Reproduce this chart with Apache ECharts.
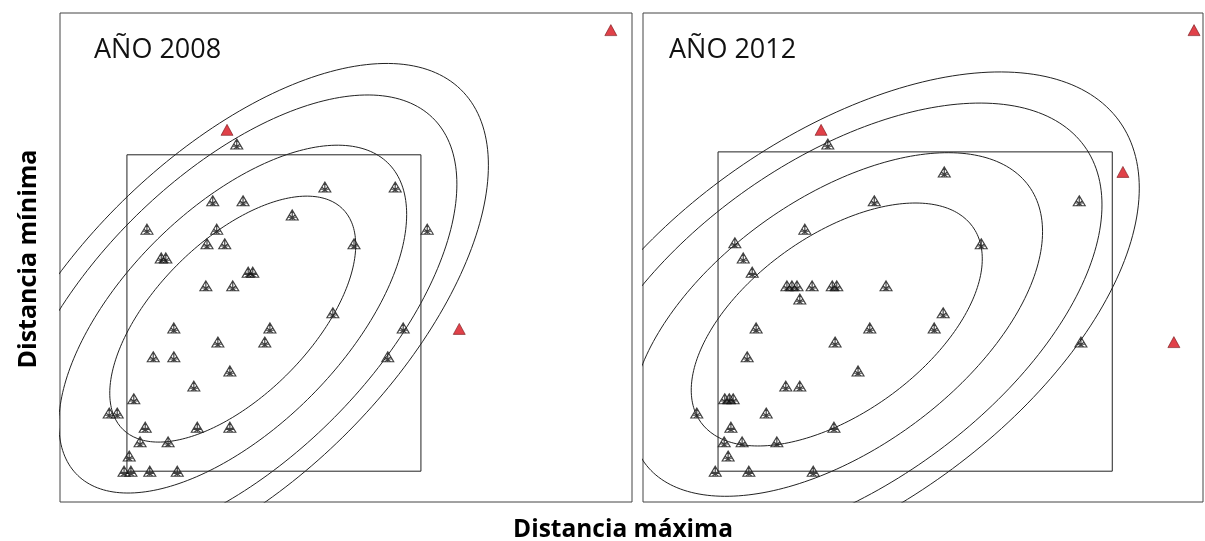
<!DOCTYPE html>
<html><head><meta charset="utf-8">
<script src="https://cdn.jsdelivr.net/npm/echarts@6/dist/echarts.min.js"></script>
<style>html,body{margin:0;padding:0;background:#fff}#c{width:1205px;height:541px}</style>
</head><body><div id="c"></div>
<script>
// Panel titles
const panelTitles = ['AÑO 2008', 'AÑO 2012'];
const xAxisTitle = 'Distancia máxima';
const yAxisTitle = 'Distancia mínima';

// 2008 sites [dist. máxima, dist. mínima] (0-100 scale)
const sites2008 = [
  [30.9,73.2],[26.7,61.6],[32.0,61.6],[40.6,58.7],[46.3,64.4],[58.6,64.4],
  [15.2,55.8],[27.4,55.8],[64.2,55.8],[25.7,52.8],[28.8,52.8],[51.4,52.8],
  [17.7,49.9],[18.5,49.9],[32.9,47.0],[33.7,47.0],[25.5,44.2],[30.2,44.2],
  [47.7,38.7],[19.9,35.6],[36.7,35.6],[60.0,35.6],[27.6,32.7],[35.8,32.7],
  [16.3,29.7],[19.9,29.7],[57.3,29.7],[29.7,26.8],[23.4,23.7],[12.9,21.1],
  [8.6,18.2],[10.0,18.2],[14.9,15.3],[24.0,15.3],[29.7,15.3],[14.0,12.3],
  [18.9,12.3],[12.1,9.4],[11.2,6.3],[12.4,6.3],[15.7,6.3],[20.5,6.3]
];
const outliers2008 = [[29.2,76.1],[69.8,35.4],[96.3,96.5]];

// 2012 sites
const sites2012 = [
  [33.0,73.2],[53.8,67.5],[41.3,61.6],[77.9,61.6],[28.9,55.8],[16.4,53.0],
  [60.4,52.8],[17.9,49.9],[19.5,47.0],[25.7,44.2],[26.6,44.2],[27.5,44.2],
  [30.2,44.2],[33.8,44.2],[34.6,44.2],[43.4,44.2],[28.0,41.5],[53.6,38.7],
  [20.2,35.6],[40.5,35.6],[52.0,35.6],[34.3,32.7],[78.2,32.7],[18.6,29.7],
  [38.4,26.8],[25.5,23.7],[28.0,23.7],[14.6,21.1],[15.4,21.1],[16.1,21.1],
  [9.6,18.2],[22.0,18.2],[15.7,15.3],[34.1,15.3],[14.5,12.3],[17.7,12.3],
  [23.9,12.3],[15.2,9.4],[12.9,6.3],[18.9,6.3],[30.4,6.3]
];
const outliers2012 = [[31.8,76.1],[85.7,67.5],[94.8,32.7],[98.4,96.5]];

// Box limits [xmin, xmax, ymin, ymax]
const box2008 = [11.7, 63.1, 6.3, 71.0];
const box2012 = [13.4, 83.8, 6.3, 71.6];

// Bivariate model: center, std devs, correlation
const model2008 = {cx: 30.2, cy: 37.4, sx: 18.26, sy: 21.36, r: 0.602};
const model2012 = {cx: 34.6, cy: 36.3, sx: 22.07, sy: 21.10, r: 0.540};
// Contour probability levels
const levels = [0.5, 0.75, 0.9, 0.95];

function boxPath(b) {
  return [[b[0],b[2]],[b[0],b[3]],[b[1],b[3]],[b[1],b[2]],[b[0],b[2]]];
}
function contour(m, p) {
  const k = Math.sqrt(-2 * Math.log(1 - p));
  const pts = [];
  const n = 240;
  const q = Math.sqrt(1 - m.r * m.r);
  for (let i = 0; i <= n; i++) {
    const t = 2 * Math.PI * i / n;
    pts.push([m.cx + k * m.sx * Math.cos(t),
              m.cy + k * m.sy * (m.r * Math.cos(t) + q * Math.sin(t))]);
  }
  return pts;
}

const triPath = 'path://M5,0 L10,9 L0,9 Z M2.5,4.5 L7.5,9 M7.5,4.5 L2.5,9 M5,0 L5,9 M1.5,6.5 L8.5,6.5';
const lineCol = '#222';

const grids = [
  {left: 60, top: 13, width: 572, height: 489, show: true, borderColor: '#444', borderWidth: 1, backgroundColor: '#fff'},
  {left: 643, top: 13, width: 560, height: 489, show: true, borderColor: '#444', borderWidth: 1, backgroundColor: '#fff'}
];
const axX = [0,1].map(i => ({type: 'value', gridIndex: i, min: 0, max: 100, show: false}));
const axY = [0,1].map(i => ({type: 'value', gridIndex: i, min: 0, max: 100, show: false}));

const series = [];
const panels = [
  {sites: sites2008, out: outliers2008, box: box2008, model: model2008},
  {sites: sites2012, out: outliers2012, box: box2012, model: model2012}
];
panels.forEach((p, i) => {
  levels.forEach(lv => {
    series.push({type: 'line', xAxisIndex: i, yAxisIndex: i, data: contour(p.model, lv),
      showSymbol: false, smooth: false, clip: true, silent: true,
      lineStyle: {color: lineCol, width: 1}});
  });
  series.push({type: 'line', xAxisIndex: i, yAxisIndex: i, data: boxPath(p.box),
    showSymbol: false, clip: true, silent: true, lineStyle: {color: lineCol, width: 1}});
  series.push({type: 'scatter', xAxisIndex: i, yAxisIndex: i, data: p.sites,
    symbol: triPath, symbolSize: [12, 10],
    itemStyle: {color: 'rgba(0,0,0,0)', borderColor: '#111', borderWidth: 1.1}});
  series.push({type: 'scatter', xAxisIndex: i, yAxisIndex: i, data: p.out,
    symbol: 'triangle', symbolSize: [12, 11],
    itemStyle: {color: '#d8121c', borderColor: '#6a0d10', borderWidth: 0.7}});
});

const chart = echarts.init(document.getElementById('c'), null, {renderer: 'canvas'});
chart.setOption({
  animation: false,
  backgroundColor: '#fff',
  grid: grids, xAxis: axX, yAxis: axY, series: series,
  graphic: [
    {type: 'text', left: 94, top: 37, style: {text: panelTitles[0], font: '27px "Open Sans"', fill: '#111'}},
    {type: 'text', left: 669, top: 37, style: {text: panelTitles[1], font: '27px "Open Sans"', fill: '#111'}},
    {type: 'text', x: 623, y: 530, style: {text: xAxisTitle, font: 'bold 24.5px "Open Sans"', fill: '#000', align: 'center', verticalAlign: 'middle'}},
    {type: 'text', x: 29, y: 259, rotation: Math.PI / 2, style: {text: yAxisTitle, font: 'bold 25px "Open Sans"', fill: '#000', align: 'center', verticalAlign: 'middle'}}
  ]
});
</script>
</body></html>
